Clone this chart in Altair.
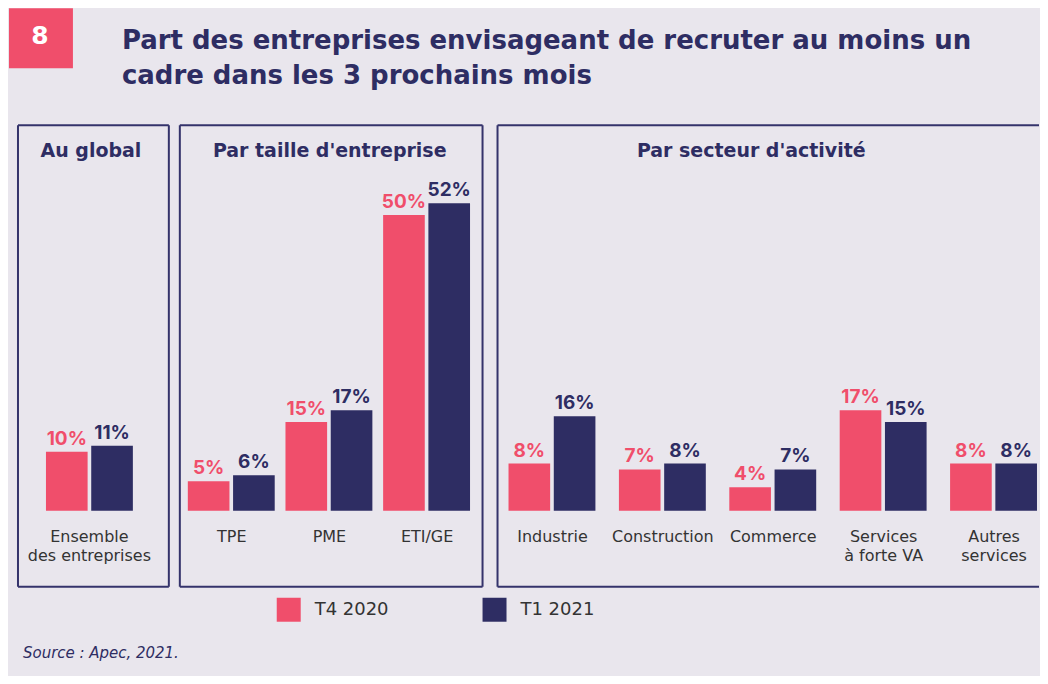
import altair as alt
import pandas as pd

# ---- data ----
series = ["T4 2020", "T1 2021"]
colors = ["#F04E6B", "#2E2D63"]

global_cats = ["Ensemble\ndes entreprises"]
global_t4 = [10]
global_t1 = [11]

size_cats = ["TPE", "PME", "ETI/GE"]
size_t4 = [5, 15, 50]
size_t1 = [6, 17, 52]

sector_cats = ["Industrie", "Construction", "Commerce", "Services\nà forte VA", "Autres\nservices"]
sector_t4 = [8, 7, 4, 17, 8]
sector_t1 = [16, 8, 7, 15, 8]

title_lines = "Part des entreprises envisageant de recruter au moins un\ncadre dans les 3 prochains mois"
source_text = "Source : Apec, 2021."

FONT = "DejaVu Sans"
NUMFONT = "Inter"
NAVY = "#2E2D63"
BORDER = "#34336B"
BG = "#E9E6ED"
PANEL_H = 462
YDOM = [-12.84, 65.2]

dummy = pd.DataFrame({"a": [0]})


def panel(cats, t4, t1, width, pi, po, align, title, title_x, right_border=True):
    n = len(cats)
    df = pd.DataFrame({
        "cat": cats * 2,
        "series": [series[0]] * n + [series[1]] * n,
        "value": t4 + t1,
    })
    base = alt.Chart(df).transform_calculate(
        label="datum.value + '%'"
    ).encode(
        x=alt.X("cat:N", sort=cats,
                scale=alt.Scale(paddingInner=pi, paddingOuter=po, align=align),
                axis=alt.Axis(title=None, labelAngle=0, domain=False, ticks=False,
                              labelPadding=0, offset=-58, labelFontSize=16,
                              labelColor="#333333", labelLineHeight=19, labelFont=FONT,
                              labelExpr="split(datum.label, '\\n')", grid=False)),
        xOffset=alt.XOffset("series:N", sort=series, scale=alt.Scale(paddingInner=0.08)),
        y=alt.Y("value:Q", scale=alt.Scale(domain=YDOM, nice=False, zero=False), axis=None),
    )
    bars = base.mark_bar().encode(
        y2=alt.datum(0),
        color=alt.Color("series:N", sort=series,
                        scale=alt.Scale(domain=series, range=colors),
                        legend=alt.Legend(title=None, orient="none", legendX=268, legendY=590,
                                          direction="horizontal", symbolType="square",
                                          symbolSize=576, symbolStrokeWidth=0, symbolOpacity=1,
                                          labelFontSize=18, labelFont=FONT, labelColor="#333333",
                                          labelOffset=14, columnPadding=94, padding=0)),
    )
    labels = base.mark_text(baseline="alphabetic", dy=-7, fontSize=19,
                            fontWeight="bold", font=NUMFONT).encode(
        text="label:N",
        color=alt.Color("series:N", sort=series,
                        scale=alt.Scale(domain=series, range=colors), legend=None),
    )
    dc = alt.Chart(dummy)
    heading = dc.mark_text(font=FONT, fontSize=19, fontWeight="bold", color=NAVY,
                           align="center", baseline="middle").encode(
        x=alt.value(title_x), y=alt.value(26), text=alt.value(title))
    rc = dc.mark_rule(color=BORDER, strokeWidth=2)
    borders = [
        rc.encode(x=alt.value(0), x2=alt.value(width), y=alt.value(0)),
        rc.encode(x=alt.value(0), x2=alt.value(width), y=alt.value(PANEL_H)),
        rc.encode(x=alt.value(0), y=alt.value(0), y2=alt.value(PANEL_H)),
    ]
    if right_border:
        borders.append(rc.encode(x=alt.value(width), y=alt.value(0), y2=alt.value(PANEL_H)))
    return alt.layer(bars, labels, heading, *borders).properties(width=width, height=PANEL_H)


p1 = panel(global_cats, global_t4, global_t1, 151, 0.0, 0.368, 0.4375, "Au global", 73)
p2 = panel(size_cats, size_t4, size_t1, 303, 0.0997, 0.0997, 0.41, "Par taille d'entreprise", 150)
p3 = panel(sector_cats, sector_t4, sector_t1, 542, 0.2036, 0.0543, 0.917,
           "Par secteur d'activité", 254, right_border=False)

spacer = alt.Chart(dummy).mark_point(opacity=0, size=1).encode(
    x=alt.value(0), y=alt.value(1)
).properties(width=1, height=PANEL_H)

left_group = alt.hconcat(spacer, alt.hconcat(p1, p2, spacing=9), spacing=7)
panels = alt.hconcat(left_group, p3, spacing=13)

# header: numbered box + title
hb = alt.Chart(dummy)
header = alt.layer(
    hb.mark_rect(color="#F04E6B").encode(x=alt.value(0), x2=alt.value(64),
                                          y=alt.value(0), y2=alt.value(60)),
    hb.mark_text(color="white", fontSize=25, fontWeight="bold", font=FONT,
                 baseline="middle", align="center").encode(
        x=alt.value(31), y=alt.value(28), text=alt.value("8")),
    hb.mark_text(color=NAVY, fontSize=26, fontWeight="bold", font=FONT, baseline="middle",
                 align="left", lineBreak="\n", lineHeight=35).encode(
        x=alt.value(113), y=alt.value(33), text=alt.value(title_lines)),
).properties(width=1032, height=116)

footer = alt.Chart(dummy).mark_text(
    color=NAVY, fontSize=15, fontStyle="italic", font=FONT, align="left", baseline="middle"
).encode(x=alt.value(14), y=alt.value(65), text=alt.value(source_text)).properties(
    width=1032, height=88)

chart = alt.vconcat(header, panels, footer, spacing=0).properties(
    padding=0, background=BG
).configure_view(strokeOpacity=0, strokeWidth=0)

chart.save("out.html", embed_options={"renderer": "svg", "actions": False})
